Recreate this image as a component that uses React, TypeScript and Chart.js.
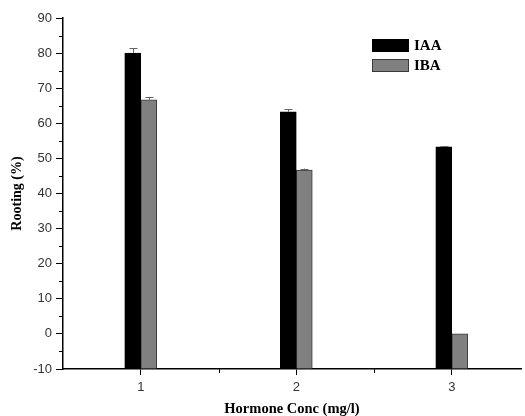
import React, { useEffect, useRef } from "react";
import { Chart, registerables } from "chart.js";

Chart.register(...registerables);

const categories = [1, 2, 3];
const iaaValues = [80, 63.3, 53.3];
const ibaValues = [66.7, 46.7, 0];
const iaaErrors = [1.4, 0.7, 0.2];
const ibaErrors = [0.8, 0.4, 0];
const seriesLabels = ["IAA", "IBA"];
const yTicks = [-10, 0, 10, 20, 30, 40, 50, 60, 70, 80, 90];
const yMinorTicks = [-5, 5, 15, 25, 35, 45, 55, 65, 75, 85];
const xMinorTicks = [1.5, 2.5];

const errorsByDataset = [iaaErrors, ibaErrors];

const errorBarPlugin = {
  id: "errorBars",
  afterDatasetsDraw(chart: any) {
    const ctx = chart.ctx;
    const yScale = chart.scales.y;
    ctx.save();
    ctx.strokeStyle = "#666";
    ctx.lineWidth = 1;
    chart.data.datasets.forEach((ds: any, di: number) => {
      const meta = chart.getDatasetMeta(di);
      meta.data.forEach((bar: any, i: number) => {
        const err = errorsByDataset[di][i];
        if (!err) return;
        const v = ds.data[i].y;
        const yTop = yScale.getPixelForValue(v + err);
        const x = Math.round(bar.x) + 0.5;
        ctx.beginPath();
        ctx.moveTo(x, bar.y);
        ctx.lineTo(x, yTop);
        ctx.moveTo(x - 4, Math.round(yTop) + 0.5);
        ctx.lineTo(x + 4, Math.round(yTop) + 0.5);
        ctx.stroke();
      });
    });
    ctx.restore();
  },
};

const minorTickPlugin = {
  id: "minorTicks",
  afterDraw(chart: any) {
    const ctx = chart.ctx;
    const { x: xs, y: ys } = chart.scales;
    const area = chart.chartArea;
    ctx.save();
    ctx.strokeStyle = "#000";
    ctx.lineWidth = 1;
    ctx.beginPath();
    yMinorTicks.forEach((v) => {
      const py = Math.round(ys.getPixelForValue(v)) + 0.5;
      ctx.moveTo(area.left - 4, py);
      ctx.lineTo(area.left, py);
    });
    xMinorTicks.forEach((v) => {
      const px = Math.round(xs.getPixelForValue(v)) + 0.5;
      ctx.moveTo(px, area.bottom);
      ctx.lineTo(px, area.bottom + 4);
    });
    ctx.stroke();
    ctx.restore();
  },
};

const legendPlugin = {
  id: "customLegend",
  afterDraw(chart: any) {
    const ctx = chart.ctx;
    ctx.save();
    const x0 = 372;
    const boxW = 37;
    const boxH = 13;
    const tops = [39, 59];
    chart.data.datasets.forEach((ds: any, i: number) => {
      const top = tops[i];
      ctx.fillStyle = ds.backgroundColor;
      ctx.fillRect(x0, top, boxW, boxH);
      ctx.strokeStyle = ds.borderColor;
      ctx.lineWidth = 1;
      ctx.strokeRect(x0 + 0.5, top + 0.5, boxW - 1, boxH - 1);
      ctx.fillStyle = "#000";
      ctx.font = "bold 15px 'Liberation Serif', 'Times New Roman', serif";
      ctx.textBaseline = "middle";
      ctx.textAlign = "left";
      ctx.fillText(ds.label, x0 + boxW + 5, top + boxH / 2 + 1);
    });
    ctx.restore();
  },
};

export default function App() {
  const canvasRef = useRef<HTMLCanvasElement | null>(null);

  useEffect(() => {
    if (!canvasRef.current) return;
    const chart = new Chart(canvasRef.current, {
      type: "bar",
      data: {
        datasets: [
          {
            label: seriesLabels[0],
            data: categories.map((c, i) => ({ x: c, y: iaaValues[i] })),
            backgroundColor: "#000000",
            borderColor: "#000000",
            borderWidth: 1,
            base: -10,
            barThickness: 16,
          } as any,
          {
            label: seriesLabels[1],
            data: categories.map((c, i) => ({ x: c, y: ibaValues[i] })),
            backgroundColor: "#808080",
            borderColor: "#3a3a3a",
            borderWidth: 1,
            base: -10,
            barThickness: 16,
          } as any,
        ],
      },
      options: {
        animation: false,
        responsive: false,
        layout: { padding: { left: 0, top: 18, right: 4, bottom: 0 } },
        plugins: {
          legend: { display: false },
          tooltip: { enabled: false },
        },
        scales: {
          x: {
            type: "linear",
            min: 0.5,
            max: 3.445,
            offset: false,
            afterBuildTicks: (axis: any) => {
              axis.ticks = categories.map((v) => ({ value: v }));
            },
            afterFit: (axis: any) => {
              axis.height = 47;
            },
            grid: {
              display: true,
              offset: false,
              drawOnChartArea: false,
              drawTicks: true,
              tickLength: 6,
              tickColor: "#000",
            },
            border: { display: true, color: "#000", width: 1.5 },
            ticks: {
              padding: 5,
              color: "#333",
              font: { family: "'Liberation Sans', Arial, sans-serif", size: 13 },
              maxRotation: 0,
              callback: (v: any) => String(v),
            },
            title: {
              display: true,
              text: "Hormone Conc (mg/l)",
              color: "#000",
              padding: { top: 0, bottom: 0 },
              font: {
                family: "'Liberation Serif', 'Times New Roman', serif",
                size: 14.5,
                weight: "bold",
                lineHeight: 1,
              },
            },
          },
          y: {
            type: "linear",
            min: -10,
            max: 90,
            afterBuildTicks: (axis: any) => {
              axis.ticks = yTicks.map((v) => ({ value: v }));
            },
            afterFit: (axis: any) => {
              axis.width = 63;
            },
            grid: {
              display: true,
              drawOnChartArea: false,
              drawTicks: true,
              tickLength: 7,
              tickColor: "#000",
            },
            border: { display: true, color: "#000", width: 1.5 },
            ticks: {
              padding: 4,
              color: "#333",
              font: { family: "'Liberation Sans', Arial, sans-serif", size: 13 },
            },
            title: {
              display: true,
              text: "Rooting (%)",
              color: "#000",
              padding: { top: 9, bottom: 0 },
              font: {
                family: "'Liberation Serif', 'Times New Roman', serif",
                size: 14,
                weight: "bold",
              },
            },
          },
        },
      } as any,
      plugins: [errorBarPlugin, minorTickPlugin, legendPlugin],
    });
    return () => chart.destroy();
  }, []);

  return (
    <div style={{ position: "absolute", left: 0, top: 0, width: 525, height: 416, background: "#fff" }}>
      <canvas ref={canvasRef} width={525} height={416} style={{ display: "block" }} />
    </div>
  );
}
